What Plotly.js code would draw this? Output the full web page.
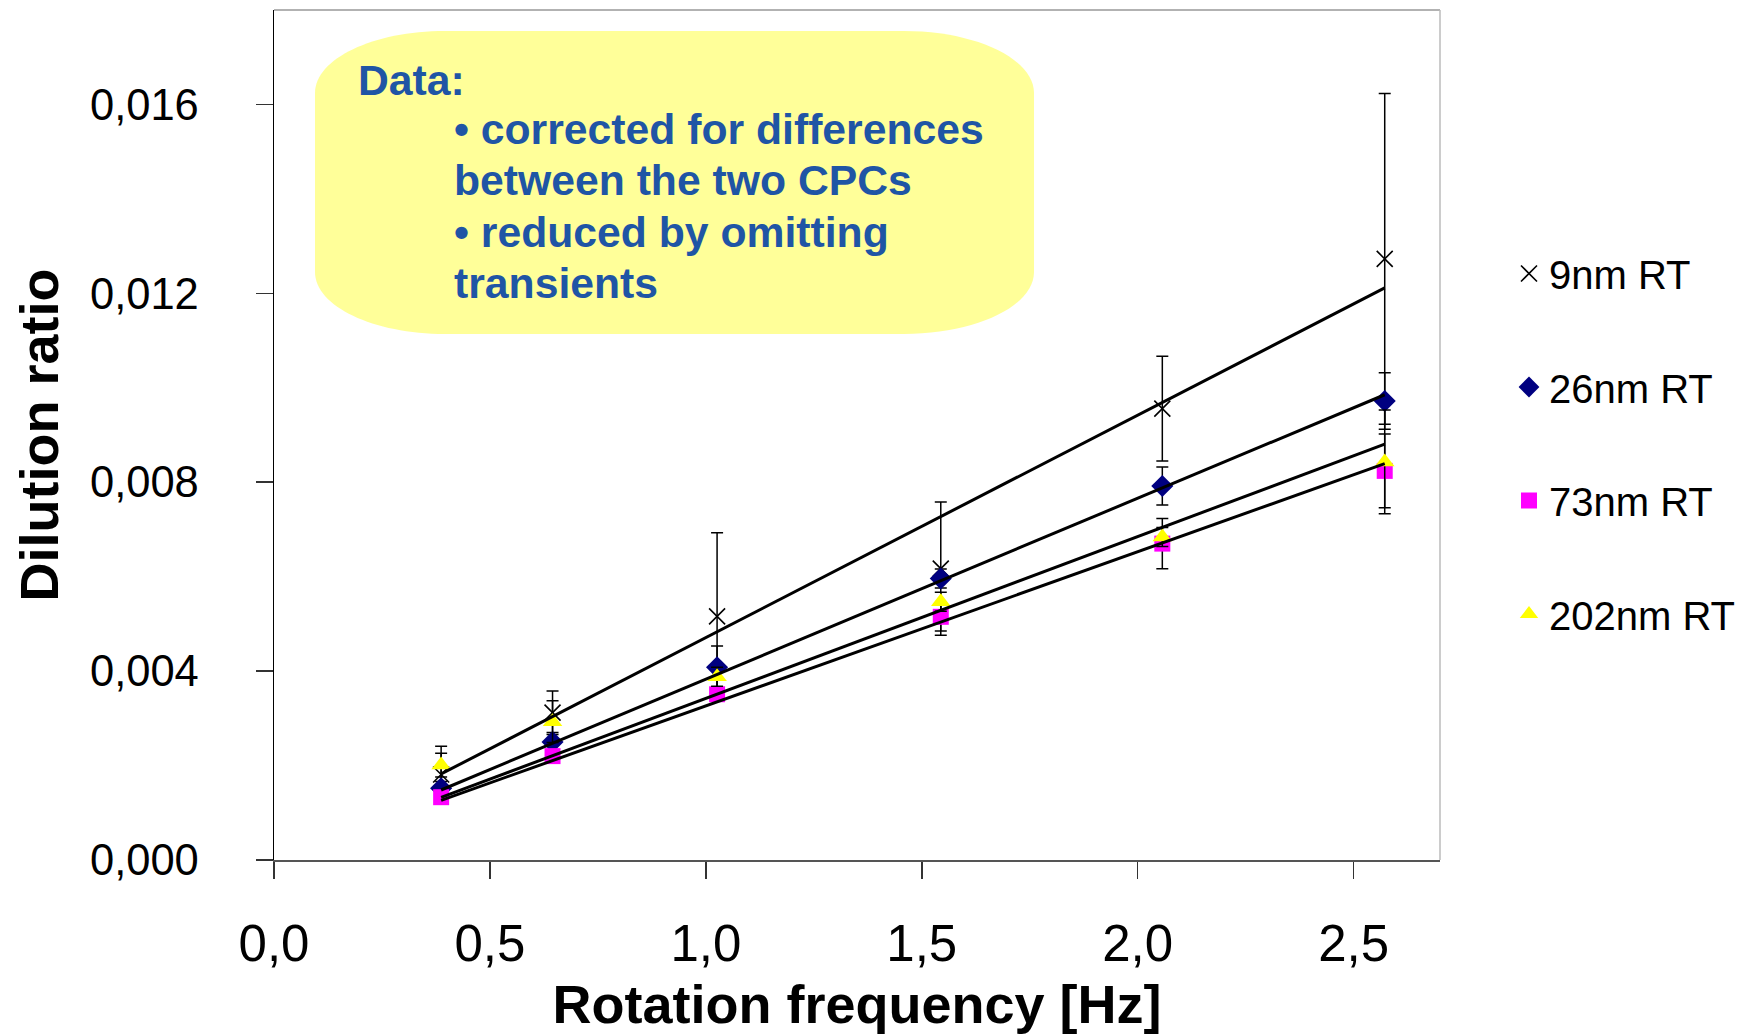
<!DOCTYPE html>
<html>
<head>
<meta charset="utf-8">
<script src="https://cdn.plot.ly/plotly-3.0.1.min.js"></script>
<style>
  html, body { margin: 0; padding: 0; background: #ffffff; }
  #chart { width: 1747px; height: 1034px; }
</style>
</head>
<body>
<div id="chart"></div>
<script>
// ---- Data ----
const freq = [0.387, 0.645, 1.026, 1.544, 2.057, 2.572];

const seriesNames = ["9nm RT", "26nm RT", "73nm RT", "202nm RT"];

const ratio9   = [0.00181, 0.00312, 0.00516, 0.00617, 0.00956, 0.01273];
const err9     = [0.00060, 0.00046, 0.00177, 0.00141, 0.00111, 0.00350];

const ratio26  = [0.00152, 0.00250, 0.00408, 0.00596, 0.00792, 0.00972];
const err26    = [0.00014, 0.00020, 0.00045, 0.00020, 0.00040, 0.00060];

const ratio73  = [0.00133, 0.00220, 0.00351, 0.00515, 0.00670, 0.00824];
const err73    = [0.00010, 0.00010, 0.00010, 0.00030, 0.00053, 0.00078];

const ratio202 = [0.00201, 0.00293, 0.00388, 0.00547, 0.00684, 0.00843];
const err202   = [0.00025, 0.00044, 0.00020, 0.00020, 0.00020, 0.00110];

const noteLines = [
  "Data:",
  "• corrected for differences",
  "between the two CPCs",
  "• reduced by omitting",
  "transients"
];

// ---- Styling ----
const FONT = "Liberation Sans, Arial, Helvetica, sans-serif";
const W = 1747, H = 1034;
const M = {l: 274, r: 307, t: 10, b: 174};
const PW = W - M.l - M.r, PH = H - M.t - M.b;
const px2x = p => (p - M.l) / PW;
const px2y = p => (H - M.b - p) / PH;

const ys = [ratio9, ratio26, ratio73, ratio202];
const es = [err9, err26, err73, err202];
const markers = [
  {symbol: "x-thin-open", size: 16, color: "#000000", line: {color: "#000000", width: 1.6}},
  {symbol: "diamond", size: 17, color: "#000080", line: {width: 0}},
  {symbol: "square", size: 16, color: "#FF00FF", line: {width: 0}},
  {symbol: "triangle-up", size: 17, color: "#FFFF00", line: {width: 0}}
];

const traces = [];
// marker traces with error bars
ys.forEach((y, i) => {
  traces.push({
    type: "scatter", mode: "markers",
    x: freq, y: y, name: seriesNames[i],
    legendgroup: "g" + i,
    marker: markers[i],
    error_y: {type: "data", array: es[i], visible: true, color: "#000000", thickness: 1.5, width: 6}
  });
});
// linear trendlines through the origin (least squares), computed from the data
ys.forEach((y, i) => {
  let sxy = 0, sxx = 0;
  for (let k = 0; k < freq.length; k++) { sxy += freq[k] * y[k]; sxx += freq[k] * freq[k]; }
  const slope = sxy / sxx;
  const x0 = Math.min(...freq), x1 = Math.max(...freq);
  traces.push({
    type: "scatter", mode: "lines",
    x: [x0, x1], y: [slope * x0, slope * x1],
    line: {color: "#000000", width: 3},
    showlegend: false, hoverinfo: "skip"
  });
});

// rounded yellow note box (elliptical corners), in paper coordinates
function roundedBox(x0, y0, x1, y1, rx, ry) {
  const k = 0.5523;
  const P = (x, y) => px2x(x).toFixed(5) + "," + px2y(y).toFixed(5);
  return "M " + P(x0 + rx, y0) +
    " L " + P(x1 - rx, y0) +
    " C " + P(x1 - rx + k * rx, y0) + " " + P(x1, y0 + ry - k * ry) + " " + P(x1, y0 + ry) +
    " L " + P(x1, y1 - ry) +
    " C " + P(x1, y1 - ry + k * ry) + " " + P(x1 - rx + k * rx, y1) + " " + P(x1 - rx, y1) +
    " L " + P(x0 + rx, y1) +
    " C " + P(x0 + rx - k * rx, y1) + " " + P(x0, y1 - ry + k * ry) + " " + P(x0, y1 - ry) +
    " L " + P(x0, y0 + ry) +
    " C " + P(x0, y0 + ry - k * ry) + " " + P(x0 + rx - k * rx, y0) + " " + P(x0 + rx, y0) + " Z";
}

const noteX = [356, 452, 452, 452, 452];
const noteY = [80, 129, 180.5, 232, 283];
const annotations = noteLines.map((t, i) => ({
  xref: "paper", yref: "paper",
  x: px2x(noteX[i]), y: px2y(noteY[i]),
  xanchor: "left", yanchor: "middle",
  text: "<b>" + t + "</b>", showarrow: false,
  font: {family: FONT, size: 42.7, color: "#1F55A5"}
}));

const layout = {
  width: W, height: H,
  margin: {l: M.l, r: M.r, t: M.t, b: M.b, pad: 0, autoexpand: false},
  paper_bgcolor: "#ffffff", plot_bgcolor: "#ffffff",
  separators: ", ",
  font: {family: FONT, color: "#000000"},
  showlegend: true,
  legend: {
    x: px2x(1509), y: px2y(241), xanchor: "left", yanchor: "top",
    font: {family: FONT, size: 40, color: "#000000"},
    bgcolor: "rgba(0,0,0,0)", borderwidth: 0,
    traceorder: "grouped", tracegroupgap: 58.5, itemsizing: "trace"
  },
  xaxis: {
    range: [0, 2.7], dtick: 0.5, tick0: 0, tickformat: ".1f",
    ticks: "outside", ticklen: 17, tickwidth: 1.5, tickcolor: "#333333",
    showline: true, linecolor: "#555555", linewidth: 2,
    showgrid: false, zeroline: false,
    tickfont: {family: FONT, size: 51, color: "#000000"},
    ticklabelstandoff: 21,
    title: {text: "<b>Rotation frequency [Hz]</b>", font: {family: FONT, size: 54, color: "#000000"}, standoff: 24},
    automargin: false
  },
  yaxis: {
    range: [0, 0.018], dtick: 0.004, tick0: 0, tickformat: ".3f",
    ticks: "outside", ticklen: 17, tickwidth: 1.5, tickcolor: "#333333",
    showline: true, linecolor: "#000000", linewidth: 1.5,
    showgrid: false, zeroline: false,
    tickfont: {family: FONT, size: 43.5, color: "#000000"},
    ticklabelstandoff: 48,
    title: {text: "<b>Dilution ratio</b>", font: {family: FONT, size: 54, color: "#000000"}, standoff: 14},
    automargin: false
  },
  shapes: [
    {type: "path", xref: "paper", yref: "paper", layer: "below",
     path: roundedBox(315, 31, 1034, 334, 130, 62),
     fillcolor: "#FFFF99", line: {width: 0}},
    {type: "line", xref: "paper", yref: "paper", x0: 0, x1: 1, y0: 1, y1: 1,
     line: {color: "#999999", width: 1.5}},
    {type: "line", xref: "paper", yref: "paper", x0: 1, x1: 1, y0: 0, y1: 1,
     line: {color: "#BBBBBB", width: 1.5}}
  ],
  annotations: annotations
};

Plotly.newPlot("chart", traces, layout, {displayModeBar: false, staticPlot: true});
</script>
</body>
</html>
